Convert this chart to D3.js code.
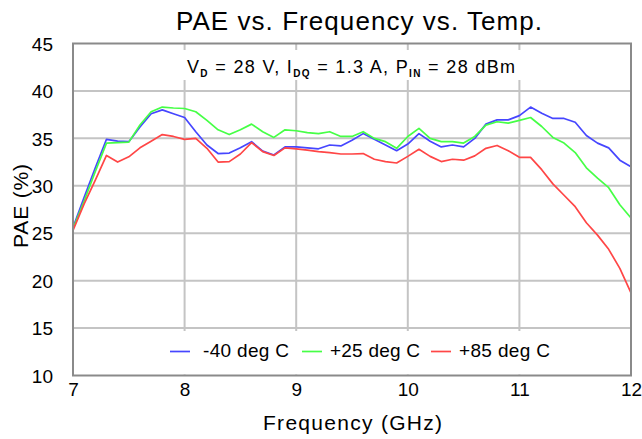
<!DOCTYPE html>
<html><head><meta charset="utf-8">
<script src="https://cdn.jsdelivr.net/npm/d3@7"></script>
<style>
body{margin:0;background:#fff;}
text{font-family:"Liberation Sans",Arial,sans-serif;fill:#000;}
</style></head>
<body><svg id="c" width="642" height="439"></svg>
<script>
const freqs = [7.0,7.1,7.2,7.3,7.4,7.5,7.6,7.7,7.8,7.9,8.0,8.1,8.2,8.3,8.4,8.5,8.6,8.7,8.8,8.9,9.0,9.1,9.2,9.3,9.4,9.5,9.6,9.7,9.8,9.9,10.0,10.1,10.2,10.3,10.4,10.5,10.6,10.7,10.8,10.9,11.0,11.1,11.2,11.3,11.4,11.5,11.6,11.7,11.8,11.9,12.0];
const paeM40 = [25.6,28.8,31.9,34.9,34.7,34.65,36.2,37.6,38.0,37.6,37.2,35.7,34.3,33.4,33.45,34.0,34.65,33.65,33.25,34.1,34.1,34.0,33.9,34.3,34.2,34.8,35.5,34.9,34.3,33.7,34.4,35.5,34.7,34.1,34.3,34.1,35.0,36.5,36.95,36.95,37.4,38.3,37.65,37.1,37.1,36.7,35.3,34.5,34.0,32.7,32.0];
const paeP25 = [25.5,28.4,31.5,34.5,34.55,34.6,36.4,37.8,38.3,38.2,38.15,37.8,36.9,35.9,35.4,35.9,36.5,35.7,35.1,35.9,35.8,35.6,35.5,35.7,35.2,35.2,35.7,35.0,34.65,33.95,35.2,36.05,35.0,34.65,34.65,34.5,35.2,36.4,36.75,36.6,36.9,37.2,36.25,35.1,34.5,33.5,31.9,30.8,29.8,28.0,26.6];
const paeP85 = [25.3,28.1,30.6,33.2,32.5,33.05,34.0,34.7,35.4,35.2,34.9,35.0,33.95,32.5,32.55,33.35,34.55,33.6,33.2,34.0,33.9,33.75,33.6,33.5,33.35,33.35,33.4,32.8,32.55,32.4,33.1,33.85,33.1,32.55,32.8,32.7,33.15,33.95,34.25,33.7,33.0,33.0,31.7,30.2,29.0,27.8,26.1,24.8,23.3,21.3,18.7];
const seriesNames = ["-40 deg C","+25 deg C","+85 deg C"];
const seriesColors = ["#4646ff","#46ff46","#ff4646"];
const xTicks = [7,8,9,10,11,12];
const yTicks = [10,15,20,25,30,35,40,45];

const svg = d3.select("#c");
const L=73,R=631,T=43.5,B=375.5;
const x = d3.scaleLinear().domain([7,12]).range([L,R]);
const y = d3.scaleLinear().domain([10,45]).range([B,T]);

// grid
const grid = svg.append("g");
grid.selectAll("line.h").data(yTicks.filter(v=>v>10&&v<45)).join("line")
  .attr("x1",L).attr("x2",R).attr("y1",d=>y(d)).attr("y2",d=>y(d))
  .attr("stroke","#c4c4c4").attr("stroke-width",2);
grid.selectAll("line.v").data(xTicks.filter(v=>v>7&&v<12)).join("line")
  .attr("y1",T).attr("y2",B).attr("x1",d=>x(d)).attr("x2",d=>x(d))
  .attr("stroke","#c4c4c4").attr("stroke-width",2);

// subtitle & legend backgrounds
svg.append("rect").attr("x",L+2).attr("y",50).attr("width",R-L-4).attr("height",30).attr("fill","#fff");
svg.append("rect").attr("x",L+2).attr("y",331).attr("width",R-L-4).attr("height",B-331-1).attr("fill","#fff");

// lines
const data = [paeM40,paeP25,paeP85];
const line = d3.line().x((d,i)=>x(freqs[i])).y(d=>y(d));
svg.append("g").selectAll("path").data(data).join("path")
  .attr("d",line).attr("fill","none")
  .attr("stroke",(d,i)=>seriesColors[i]).attr("stroke-width",1.7)
  .attr("stroke-linejoin","round");

// border
svg.append("rect").attr("x",L).attr("y",T).attr("width",R-L).attr("height",B-T)
  .attr("fill","none").attr("stroke","#8a8a8a").attr("stroke-width",2);

// axes labels
const xa = d3.axisBottom(x).tickValues(xTicks).tickSize(0).tickPadding(0).tickFormat(d3.format("d"));
const gx = svg.append("g").attr("transform",`translate(0,${B})`).call(xa);
gx.select(".domain").remove();
gx.selectAll("text").attr("font-size",19).attr("dy",0).attr("y",20).attr("font-family","Liberation Sans, Arial, sans-serif");
const ya = d3.axisLeft(y).tickValues(yTicks).tickSize(0).tickPadding(0).tickFormat(d3.format("d"));
const gy = svg.append("g").attr("transform",`translate(53,0)`).call(ya);
gy.select(".domain").remove();
gy.selectAll("text").attr("font-size",19).attr("dy","0.35em").attr("x",0).attr("font-family","Liberation Sans, Arial, sans-serif");

// titles
svg.append("text").attr("x",359).attr("y",30).attr("text-anchor","middle").attr("font-size",26)
  .attr("textLength",366).attr("lengthAdjust","spacing").text("PAE vs. Frequency vs. Temp.");
svg.append("text").attr("x",352.5).attr("y",430).attr("text-anchor","middle").attr("font-size",21)
  .attr("textLength",179).attr("lengthAdjust","spacing").text("Frequency (GHz)");
svg.append("text").attr("transform","translate(28,206) rotate(-90)").attr("text-anchor","middle").attr("font-size",21)
  .attr("textLength",84).attr("lengthAdjust","spacing").text("PAE (%)");

// subtitle with subscripts
const st = svg.append("text").attr("x",351).attr("y",73).attr("text-anchor","middle").attr("font-size",18)
  .attr("textLength",328).attr("lengthAdjust","spacing");
const parts = [["V",""],["D","s"],[" = 28 V, I",""],["DQ","s"],[" = 1.3 A, P",""],["IN","s"],[" = 28 dBm",""]];
parts.forEach((p,i)=>{
  const ts = st.append("tspan").text(p[0]);
  if(p[1]==="s") ts.attr("font-size",10).attr("font-weight","bold").attr("dy",4);
  else ts.attr("dy", i>0 ? -4 : 0);
});

// legend
const lg = svg.append("g");
const legX = [170,302,431];
const legTextX = [203,330,459];
const legLen = [86,90,91];
seriesNames.forEach((n,i)=>{
  lg.append("line").attr("x1",legX[i]).attr("x2",legX[i]+20).attr("y1",351.5).attr("y2",351.5)
    .attr("stroke",seriesColors[i]).attr("stroke-width",1.7);
  lg.append("text").attr("x",legTextX[i]).attr("y",357).attr("font-size",19)
    .attr("textLength",legLen[i]).attr("lengthAdjust","spacing").text(n);
});
</script></body></html>
